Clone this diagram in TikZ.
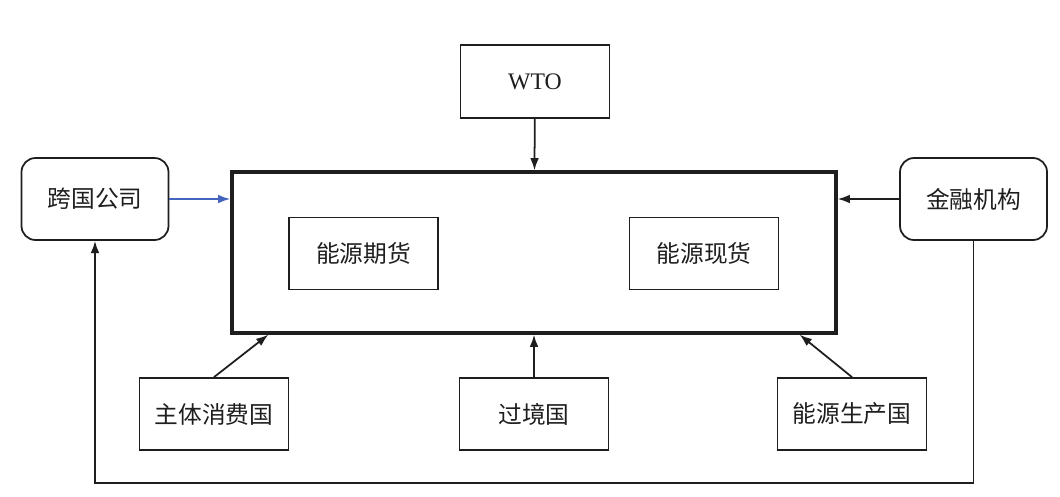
\documentclass[tikz,border=0pt]{standalone}
\usepackage{fontspec}
\setmainfont{Liberation Serif}
\newfontfamily\cjk{Noto Sans CJK SC}
\usetikzlibrary{arrows.meta,positioning}
\definecolor{linkblue}{RGB}{68,100,190}
\definecolor{ink}{RGB}{30,30,30}

\begin{document}
\begin{tikzpicture}[>={Latex[length=7pt,width=5pt]}, ink,
  box/.style={draw, line width=1pt, minimum width=2.98cm, minimum height=1.44cm,
    inner sep=0pt, font=\fontsize{13.5}{15}\selectfont\cjk},
  rbox/.style={box, rounded corners=8pt, minimum width=2.94cm, minimum height=1.64cm},
  link/.style={->, line width=1pt}]
  \useasboundingbox (0,0) rectangle (21.2,9.92);
  % market in the middle
  \node[draw, line width=1.9pt, minimum width=12.08cm, minimum height=3.22cm] (market) at (10.68,4.87) {};
  \node[box] (futures) at (7.27,4.85) {能源期货};
  \node[box] (spot) at (14.08,4.85) {能源现货};
  % actors round it
  \node[box, minimum height=1.46cm, font=\fontsize{13.5}{15}\selectfont] (wto) at (10.7,8.29) {WTO};
  \node[rbox] (tnc) at (1.9,5.94) {跨国公司};
  \node[rbox] (fin) at (19.47,5.94) {金融机构};
  \node[box] (cons) at (4.28,1.64) {主体消费国};
  \node[box] (transit) at (10.68,1.64) {过境国};
  \node[box] (prod) at (17.04,1.64) {能源生产国};
  \coordinate (base) at (10.6,0.26);
  % connectors
  \draw[link] (wto) -- (market);
  \draw[link, linkblue] (tnc) -- (tnc -| market.west);
  \draw[link] (fin) -- (fin -| market.east);
  \draw[link] (transit) -- (market);
  \draw[link] (cons.north) -- ([xshift=0.76cm]market.south west);
  \draw[link] (prod.north) -- ([xshift=-0.76cm]market.south east);
  \draw[link] (fin.south) |- (base) -| (tnc.south);
\end{tikzpicture}
\end{document}
